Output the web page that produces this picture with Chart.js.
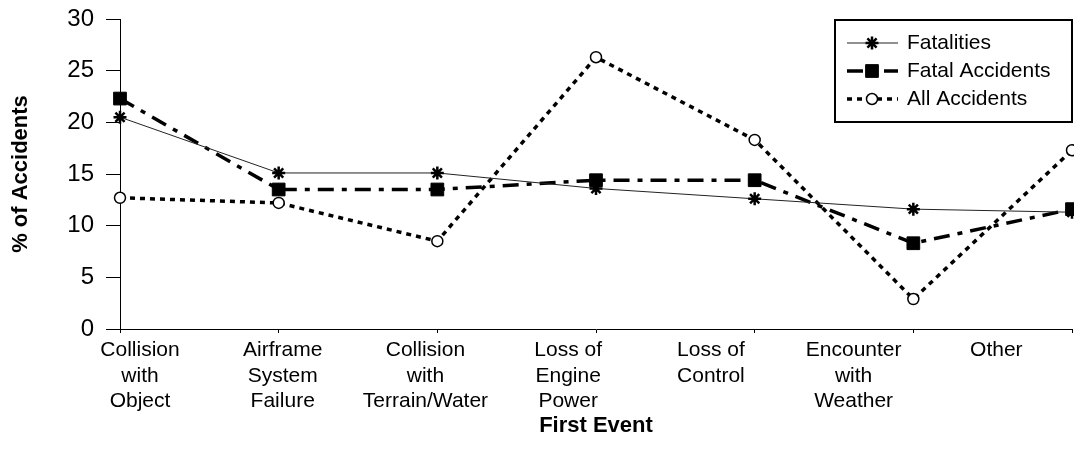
<!DOCTYPE html>
<html>
<head>
<meta charset="utf-8">
<script src="https://cdn.jsdelivr.net/npm/chart.js@4"></script>
<style>
  body { margin: 0; background: #fff; }
  #wrap { width: 1074px; height: 459px; }
</style>
</head>
<body>
<div id="wrap"><canvas id="myChart"></canvas></div>
<script>
const categories = [
    ['Collision', 'with', 'Object'],
    ['Airframe', 'System', 'Failure'],
    ['Collision', 'with', 'Terrain/Water'],
    ['Loss of', 'Engine', 'Power'],
    ['Loss of', 'Control'],
    ['Encounter', 'with', 'Weather'],
    ['Other']
];
const fatalities = [20.5, 15.1, 15.1, 13.6, 12.6, 11.6, 11.3];
const fatalAccidents = [22.3, 13.5, 13.5, 14.4, 14.4, 8.3, 11.6];
const allAccidents = [12.7, 12.2, 8.5, 26.3, 18.3, 2.9, 17.3];
const yTicks = [0, 5, 10, 15, 20, 25, 30];

const FONT = '"Liberation Sans", Arial, sans-serif';

function pts(values) {
    return values.map((v, i) => ({ x: i, y: v }));
}

// boxed legend drawn with the dataset styles (line sample + marker)
const boxLegend = {
    id: 'boxLegend',
    afterDraw(chart) {
        const ctx = chart.ctx;
        const bx = 835, by = 20, bw = 237, bh = 102;
        ctx.save();
        ctx.strokeStyle = '#000';
        ctx.lineWidth = 2;
        ctx.fillStyle = '#fff';
        ctx.fillRect(bx, by, bw, bh);
        ctx.strokeRect(bx, by, bw, bh);
        chart.data.datasets.forEach((ds, i) => {
            const y = 43 + i * 28;
            ctx.save();
            ctx.strokeStyle = ds.borderColor;
            ctx.lineWidth = ds.borderWidth;
            ctx.setLineDash(ds.borderDash || []);
            ctx.beginPath();
            ctx.moveTo(847, y);
            ctx.lineTo(898, y);
            ctx.stroke();
            ctx.setLineDash([]);
            ctx.fillStyle = ds.pointBackgroundColor;
            ctx.strokeStyle = ds.pointBorderColor;
            ctx.lineWidth = ds.pointBorderWidth;
            Chart.helpers.drawPoint(ctx, {
                pointStyle: ds.pointStyle,
                radius: ds.pointRadius,
                rotation: 0,
                borderWidth: ds.pointBorderWidth
            }, 872, y);
            ctx.restore();
            ctx.fillStyle = '#000';
            ctx.font = '21px ' + FONT;
            ctx.textBaseline = 'middle';
            ctx.fillText(ds.label, 907, y);
        });
        ctx.restore();
    }
};

const ctx = document.getElementById('myChart');
const myChart = new Chart(ctx, {
    type: 'line',
    data: {
        datasets: [{
            label: 'Fatalities',
            data: pts(fatalities),
            borderColor: '#222',
            borderWidth: 1,
            pointStyle: 'star',
            pointRadius: 6.5,
            pointBorderWidth: 2.5,
            pointBackgroundColor: '#000',
            pointBorderColor: '#000',
            clip: false
        }, {
            label: 'Fatal Accidents',
            data: pts(fatalAccidents),
            borderColor: '#000',
            borderWidth: 3.5,
            borderDash: [16, 8, 5, 8],
            pointStyle: 'rect',
            pointRadius: 9,
            pointBorderWidth: 1,
            pointBackgroundColor: '#000',
            pointBorderColor: '#000',
            clip: false
        }, {
            label: 'All Accidents',
            data: pts(allAccidents),
            borderColor: '#000',
            borderWidth: 3.5,
            borderDash: [5, 5],
            pointStyle: 'circle',
            pointRadius: 5.5,
            pointBorderWidth: 1.5,
            pointBackgroundColor: '#fff',
            pointBorderColor: '#000',
            clip: false
        }]
    },
    options: {
        responsive: true,
        maintainAspectRatio: false,
        animation: false,
        layout: {
            autoPadding: false,
            padding: { top: 19, right: 2, left: 0, bottom: 0 }
        },
        plugins: {
            legend: { display: false },
            tooltip: { enabled: false }
        },
        scales: {
            x: {
                type: 'linear',
                position: 'bottom',
                weight: 0,
                min: 0,
                max: categories.length - 1,
                afterBuildTicks: axis => { axis.ticks = categories.map((c, i) => ({ value: i })); },
                ticks: { display: false },
                grid: { drawOnChartArea: false, drawTicks: true, tickLength: 4, color: '#000' },
                border: { display: true, color: '#000', width: 1 },
                afterFit: axis => {
                    axis.height = 1;
                    axis.paddingLeft = 0;
                    axis.paddingRight = 0;
                }
            },
            xl: {
                type: 'linear',
                position: 'bottom',
                weight: 1,
                min: -0.14,
                max: 6.53,
                afterBuildTicks: axis => { axis.ticks = categories.map((c, i) => ({ value: i })); },
                ticks: {
                    autoSkip: false,
                    maxRotation: 0,
                    padding: 0,
                    color: '#000',
                    font: { family: FONT, size: 21, lineHeight: 1.2 },
                    callback: v => categories[v]
                },
                grid: { display: false },
                border: { display: false },
                title: {
                    display: true,
                    text: 'First Event',
                    color: '#000',
                    font: { family: FONT, size: 22, weight: 'bold' },
                    padding: { top: 0, bottom: 20 }
                },
                afterFit: axis => {
                    axis.height = 129;
                    axis.paddingLeft = 0;
                    axis.paddingRight = 0;
                }
            },
            y: {
                min: 0,
                max: 30,
                afterBuildTicks: axis => { axis.ticks = yTicks.map(v => ({ value: v })); },
                ticks: {
                    color: '#000',
                    padding: 12,
                    font: { family: FONT, size: 24 }
                },
                grid: { drawOnChartArea: false, drawTicks: true, tickLength: 14, color: '#000' },
                border: { display: true, color: '#000', width: 1 },
                title: {
                    display: true,
                    text: '% of Accidents',
                    color: '#000',
                    font: { family: FONT, size: 22, weight: 'bold' },
                    padding: { top: 8, bottom: 0 }
                },
                afterFit: axis => {
                    axis.width = 120;
                    axis.paddingTop = 0;
                    axis.paddingBottom = 0;
                }
            }
        }
    },
    plugins: [boxLegend]
});
</script>
</body>
</html>
